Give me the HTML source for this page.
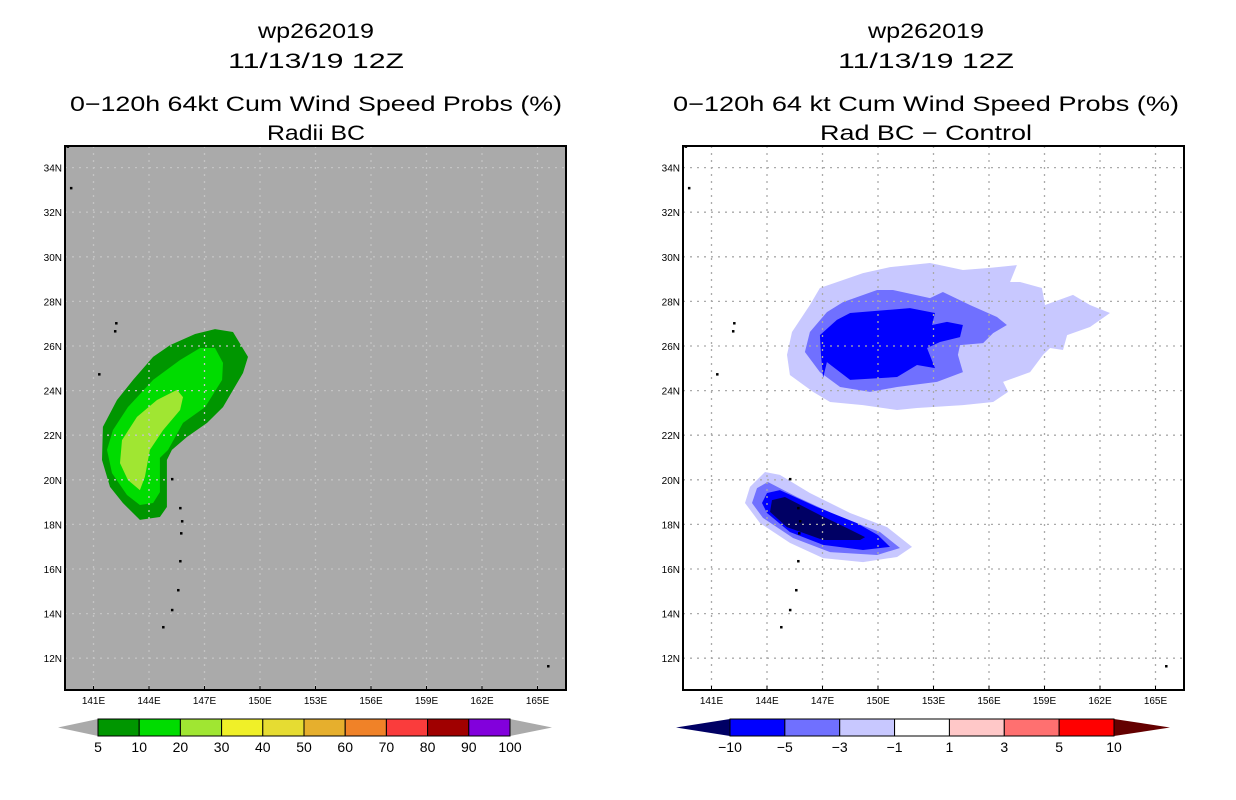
<!DOCTYPE html>
<html><head><meta charset="utf-8"><style>
html,body{margin:0;padding:0;background:#fff;}
svg{display:block;font-family:"Liberation Sans",sans-serif;}
</style></head><body>
<svg id="c" width="1236" height="800" viewBox="0 0 1236 800" xmlns="http://www.w3.org/2000/svg"></svg>
<script>
const lonTicks=[141,144,147,150,153,156,159,162,165];
const latTicks=[12,14,16,18,20,22,24,26,28,30,32,34];
const probLevels=[5,10,20,30,40,50,60,70,80,90,100];
const probColors=["#009600","#00dc00","#a0e632","#f0f028","#e6dc32","#e6af2d","#f08228","#fa3c3c","#a00000","#8200dc"];
const diffLevels=[-10,-5,-3,-1,1,3,5,10];
const diffColors=["#0000ff","#7070ff","#c8c8ff","#ffffff","#ffc8c8","#ff7070","#ff0000"];
const probGE5=[[145.14,26.04],[146.49,26.54],[147.57,26.76],[148.54,26.63],[149.35,25.51],[149.08,24.79],[148.0,23.26],[147.14,22.55],[146.05,21.92],[145.24,21.34],[144.97,20.89],[144.97,18.78],[144.59,18.33],[143.51,18.2],[142.59,18.96],[141.89,19.68],[141.46,20.89],[141.51,22.37],[142.27,23.58],[143.14,24.48],[144.22,25.51]];
const probGE10=[[145.68,25.37],[146.76,25.91],[147.57,25.91],[148.0,25.24],[147.95,24.48],[147.03,23.26],[145.84,22.55],[145.03,21.34],[144.59,20.98],[144.59,19.45],[144.22,18.96],[143.51,18.87],[142.81,19.32],[142.0,20.3],[141.73,21.34],[142.05,22.23],[142.86,23.26],[144.22,24.48]];
const probGE20=[[145.51,24.03],[145.84,23.71],[145.68,23.13],[144.76,22.23],[144.05,21.34],[143.78,20.13],[143.51,19.54],[142.86,19.99],[142.43,20.75],[142.54,21.78],[143.35,22.82],[144.43,23.58]];
const northLE1=[[145.08,25.6],[145.35,26.63],[146.32,27.84],[146.86,28.6],[149.19,29.27],[150.65,29.54],[152.81,29.72],[154.59,29.41],[156.05,29.5],[157.51,29.63],[157.14,28.87],[157.68,28.87],[158.86,28.6],[159.03,27.84],[160.54,28.29],[161.46,27.84],[162.54,27.48],[161.46,26.85],[160.22,26.49],[160.0,25.82],[159.3,25.91],[158.92,25.6],[158.22,24.83],[156.76,24.39],[157.03,23.94],[156.22,23.49],[154.59,23.35],[152.11,23.22],[151.03,23.13],[149.19,23.35],[147.41,23.49],[146.49,23.94],[145.24,24.7]];
const northLE3=[[146.05,25.73],[146.32,26.63],[147.24,27.52],[148.11,27.97],[149.95,28.51],[150.81,28.51],[152.81,28.15],[153.51,28.42],[154.97,27.84],[156.43,27.3],[156.97,26.94],[156.22,26.58],[155.68,26.13],[154.43,26.04],[154.32,25.6],[154.59,24.83],[153.19,24.39],[151.03,24.16],[149.57,23.94],[147.95,24.16],[146.86,24.83]];
const northLE5=[[146.86,26.49],[147.78,27.17],[148.49,27.48],[151.73,27.7],[153.08,27.48],[152.92,26.94],[153.73,27.08],[154.59,26.94],[154.43,26.4],[153.35,26.18],[152.65,25.91],[153.08,25.01],[152.11,25.15],[151.03,24.61],[148.49,24.48],[147.24,25.28],[147.03,24.57],[146.92,25.6]];
const southLE1=[[142.81,18.96],[143.08,19.68],[143.89,20.35],[144.7,20.22],[146.32,19.41],[148.49,18.51],[150.49,17.88],[151.84,16.99],[151.03,16.54],[149.19,16.31],[147.03,16.49],[145.24,17.17],[143.62,18.06]];
const southLE3=[[143.19,18.96],[143.46,19.63],[144.05,19.9],[145.62,19.23],[147.95,18.33],[150.11,17.66],[151.19,16.94],[149.95,16.63],[147.41,16.76],[145.41,17.39],[143.78,18.29]];
const southLE5=[[143.73,18.96],[144.0,19.41],[144.7,19.54],[146.7,18.78],[148.86,18.06],[150.0,17.52],[150.65,16.99],[149.19,16.85],[147.03,17.08],[145.24,17.66],[144.0,18.51]];
const southLE10=[[144.27,19.09],[144.97,19.23],[146.86,18.42],[148.22,17.88],[149.3,17.43],[149.03,17.3],[147.03,17.3],[145.08,17.88],[144.16,18.56]];
const islands=[[139.78,33.09],[142.22,27.03],[142.16,26.67],[141.3,24.74],[145.24,20.04],[145.68,18.74],[145.78,18.15],[145.73,17.61],[145.68,16.36],[145.57,15.06],[145.24,14.17],[144.76,13.4],[165.57,11.65],[139.6,34.95]];

const NS="http://www.w3.org/2000/svg";
const svg=document.getElementById('c');
function el(tag,attrs,parent){const e=document.createElementNS(NS,tag);for(const k in attrs)e.setAttribute(k,attrs[k]);(parent||svg).appendChild(e);return e;}
const panels=[{x0:65,off:0},{x0:683,off:618}];
const T=146,W=501,H=544;
function lonX(lon,off){return 149+off+(lon-144)*18.5;}
function latY(lat){return 346-(lat-26)*22.3;}
function poly(pts,off,fill,g,name){
  const d=pts.map((p,i)=>(i?'L':'M')+lonX(p[0],off).toFixed(1)+','+latY(p[1]).toFixed(1)).join('')+'Z';
  const p=el('path',{d:d,fill:fill},g);
  
  
}
function text(x,y,s,size,anchor,g,name,len){
  const t=el('text',{x:x,y:y,'font-size':size,'text-anchor':anchor,fill:'#000'},g);
  if(len){t.setAttribute('textLength',len);t.setAttribute('lengthAdjust','spacingAndGlyphs');}
  t.textContent=s;
  
  
  return t;
}
const titles=[["wp262019","11/13/19 12Z","0\u2212120h 64kt Cum Wind Speed Probs (%)","Radii BC",316],["wp262019","11/13/19 12Z","0\u2212120h 64 kt Cum Wind Speed Probs (%)","Rad BC \u2212 Control",926]];
titles.forEach((tt,i)=>{
  const g=el('g',{});
  
  
  text(tt[4],38,tt[0],21,'middle',g,'storm-id',116);
  text(tt[4],68,tt[1],21,'middle',g,'date-time',176);
  text(tt[4],111,tt[2],21,'middle',g,'product-title',i?506:492);
  text(tt[4],140,tt[3],21,'middle',g,'subtitle',i?212:98);
});
panels.forEach((pn,i)=>{
  const g=el('g',{});
  
  
  const cp=el('clipPath',{id:'cp'+i},g);
  el('rect',{x:pn.x0,y:T,width:W,height:H},cp);
  const bg=el('rect',{x:pn.x0,y:T,width:W,height:H,fill:i?'#fff':'#aaaaaa'},g);
  
  
  const cg=el('g',{'clip-path':'url(#cp'+i+')'},g);
  if(i===0){
    poly(probGE5,0,probColors[0],cg,'contour-5pct');
    poly(probGE10,0,probColors[1],cg,'contour-10pct');
    poly(probGE20,0,probColors[2],cg,'contour-20pct');
  }else{
    poly(northLE1,618,diffColors[2],cg,'north-contour-minus1');
    poly(northLE3,618,diffColors[1],cg,'north-contour-minus3');
    poly(northLE5,618,diffColors[0],cg,'north-contour-minus5');
    poly(southLE1,618,diffColors[2],cg,'south-contour-minus1');
    poly(southLE3,618,diffColors[1],cg,'south-contour-minus3');
    poly(southLE5,618,diffColors[0],cg,'south-contour-minus5');
    poly(southLE10,618,'#000064',cg,'south-contour-minus10');
  }
  const gc=i?'#aaaaaa':'#c4c4c4';
  lonTicks.forEach(lon=>{const x=lonX(lon,pn.off);
    const l=el('line',{x1:x,y1:T,x2:x,y2:T+H,stroke:gc,'stroke-width':1.3,'stroke-dasharray':'2,5'},cg);
    
    const t=el('line',{x1:x,y1:T+H,x2:x,y2:T+H-4,stroke:'#000','stroke-width':1},g);
    
    text(x,704,lon+'E',10,'middle',g,'lon-tick-label');
  });
  latTicks.forEach(lat=>{const y=latY(lat);
    const l=el('line',{x1:pn.x0,y1:y,x2:pn.x0+W,y2:y,stroke:gc,'stroke-width':1.3,'stroke-dasharray':'2,5'},cg);
    
    text(pn.x0-3,y+4,lat+'N',10,'end',g,'lat-tick-label');
  });
  islands.forEach(p=>{
    const r=el('rect',{x:lonX(p[0],pn.off)-1,y:latY(p[1])-1,width:2.5,height:2.5,fill:'#000'},cg);
    
  });
  const fr=el('rect',{x:pn.x0,y:T,width:W,height:H,fill:'none',stroke:'#000','stroke-width':2},g);
  
});
function colorbar(x0,x1,tipL,tipR,levels,colors,lowC,highC,name){
  const g=el('g',{});
  
  
  const y0=719,y1=736,ym=727.5,n=colors.length,w=(x1-x0)/n;
  const a=el('polygon',{points:`${tipL},${ym} ${x0},${y0} ${x0},${y1}`,fill:lowC},g);
  
  const b=el('polygon',{points:`${tipR},${ym} ${x1},${y0} ${x1},${y1}`,fill:highC},g);
  
  colors.forEach((c,k)=>{
    const r=el('rect',{x:x0+k*w,y:y0,width:w,height:y1-y0,fill:c,stroke:'#000','stroke-width':1},g);
    
  });
  levels.forEach((v,k)=>{text(x0+k*w,752,String(v).replace('-','\u2212'),14,'middle',g,'colorbar-label');});
}
colorbar(98,510,58,552,probLevels,probColors,'#aaaaaa','#aaaaaa','probability-colorbar');
colorbar(730,1114,676,1170,diffLevels,diffColors,'#000064','#640000','difference-colorbar');
</script>
</body></html>
